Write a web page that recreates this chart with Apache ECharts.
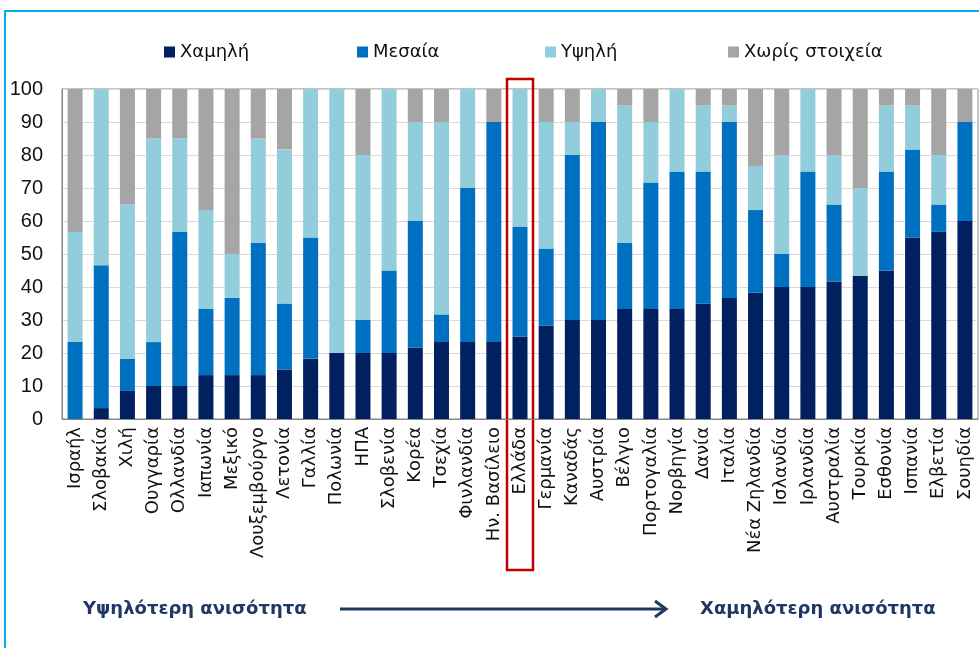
<!DOCTYPE html>
<html lang="el">
<head>
  <meta charset="UTF-8">
  <title>Ανισότητα</title>
  <script src="https://cdn.jsdelivr.net/npm/echarts@6/dist/echarts.min.js"></script>
  <style>
    * { margin: 0; padding: 0; }
    body { background: #fff; }
    #main { width: 979px; height: 648px; }
  </style>
</head>
<body>
  <div id="main"></div>
  <script>
    // χώρες, από υψηλότερη προς χαμηλότερη ανισότητα
    var countries = ['Ισραήλ','Σλοβακία','Χιλή','Ουγγαρία','Ολλανδία','Ιαπωνία','Μεξικό','Λουξεμβούργο','Λετονία','Γαλλία',
      'Πολωνία','ΗΠΑ','Σλοβενία','Κορέα','Τσεχία','Φινλανδία','Ην. Βασίλειο','Ελλάδα','Γερμανία','Καναδάς',
      'Αυστρία','Βέλγιο','Πορτογαλία','Νορβηγία','Δανία','Ιταλία','Νέα Ζηλανδία','Ισλανδία','Ιρλανδία','Αυστραλία',
      'Τουρκία','Εσθονία','Ισπανία','Ελβετία','Σουηδία'];
    var low  = [0,3.3,8.5,10,10,13.3,13.3,13.3,15,18.3,20,20,20,21.7,23.3,23.3,23.3,25,28.3,30,30,33.3,33.3,33.3,35,36.7,38.3,40,40,41.7,43.3,45,55,56.7,60];
    var mid  = [23.3,43.3,9.8,13.3,46.7,20,23.4,40,20,36.7,0,10,25,38.3,8.4,46.7,66.7,33.3,23.4,50,60,20,38.4,41.7,40,53.3,25,10,35,23.3,0,30,26.7,8.3,30];
    var high = [33.4,53.3,46.7,61.7,28.3,30,13.3,31.7,46.7,45,80,50,55,30,58.3,30,0,41.7,38.3,10,10,41.7,18.3,25,20,5,13.4,30,25,15,26.7,20,13.3,15,0];
    var none = [43.3,0,35,15,15,36.7,50,15,18.3,0,0,20,0,10,10,0,10,0,10,10,0,5,10,0,5,5,23.3,20,0,20,30,5,5,20,10];
    var seriesNames = ['Χαμηλή','Μεσαία','Υψηλή','Χωρίς στοιχεία'];
    var colors = ['#002060','#0070c0','#92cddc','#a5a5a5'];
    var highlight = 'Ελλάδα';

    var font = 'DejaVu Sans';
    var myChart = echarts.init(document.getElementById('main'));

    var series = [low, mid, high, none].map(function (d, i) {
      return {
        name: seriesNames[i],
        type: 'bar',
        stack: 'all',
        barWidth: 15,
        itemStyle: { color: colors[i] },
        data: d
      };
    });

    // ένα legend ανά σειρά, για να μείνουν στις θέσεις τους
    var legendLeft = [159, 352, 540, 723];
    var legends = seriesNames.map(function (name, i) {
      return {
        left: legendLeft[i],
        top: 38,
        itemWidth: 11,
        itemHeight: 11,
        itemGap: 0,
        icon: 'rect',
        textStyle: { fontFamily: font, fontSize: 18, color: '#111' },
        data: [name]
      };
    });

    var option = {
      animation: false,
      color: colors,
      legend: legends,
      grid: {
        left: 62, right: 1, top: 89, bottom: 229,
        show: true, borderColor: '#868686', borderWidth: 1
      },
      xAxis: {
        type: 'category',
        data: countries,
        axisTick: { show: false },
        axisLine: { lineStyle: { color: '#868686' } },
        axisLabel: {
          rotate: 90, interval: 0, margin: 8,
          fontFamily: font, fontSize: 18, color: '#111'
        }
      },
      yAxis: {
        type: 'value',
        min: 0, max: 100, interval: 10,
        axisLine: { show: true, lineStyle: { color: '#868686' } },
        axisTick: { show: false },
        splitLine: { lineStyle: { color: '#d9d9d9' } },
        axisLabel: { fontFamily: 'Liberation Sans', fontSize: 20, color: '#111', margin: 19 }
      },
      series: series
    };
    myChart.setOption(option);

    // πλαίσιο γύρω από την Ελλάδα και βέλος
    var cx = myChart.convertToPixel({ xAxisIndex: 0 }, highlight);
    var navy = '#1f3864';
    myChart.setOption({
      graphic: [
        { type: 'polyline', shape: { points: [[5, 648], [5, 11], [979, 11]] },
          style: { stroke: '#00b0f0', lineWidth: 2, fill: null } },
        { type: 'rect', shape: { x: cx - 13, y: 79, width: 26, height: 491 },
          style: { stroke: '#c00000', lineWidth: 2.5, fill: null } },
        { type: 'text', left: 83, top: 600,
          style: { text: 'Υψηλότερη ανισότητα', font: 'bold 18px "DejaVu Sans"', fill: navy } },
        { type: 'line', shape: { x1: 340, y1: 609, x2: 664, y2: 609 },
          style: { stroke: navy, lineWidth: 3 } },
        { type: 'polyline', shape: { points: [[655, 601], [666, 609], [655, 617]] },
          style: { stroke: navy, lineWidth: 3, fill: null } },
        { type: 'text', left: 700, top: 600,
          style: { text: 'Χαμηλότερη ανισότητα', font: 'bold 18px "DejaVu Sans"', fill: navy } }
      ]
    });
  </script>
</body>
</html>
